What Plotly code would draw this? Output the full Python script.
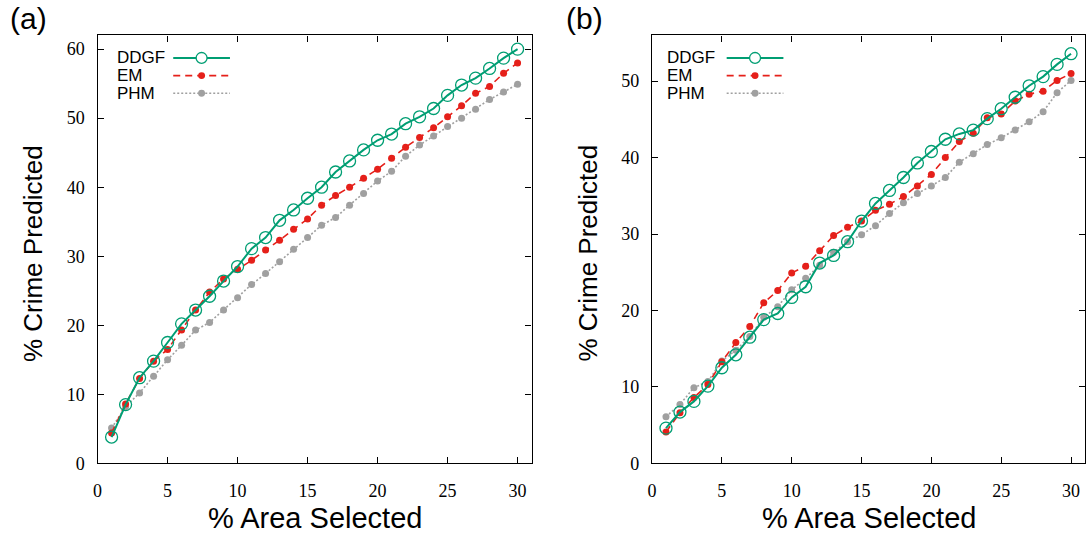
import plotly.graph_objects as go

# ---------------- data ----------------
x_area = list(range(1, 31))

a_ddgf = [3.8, 8.5, 12.4, 14.8, 17.5, 20.2, 22.2, 24.2, 26.4, 28.5, 31.1, 32.7, 35.2, 36.7, 38.4,
          40.0, 42.2, 43.8, 45.4, 46.8, 47.7, 49.2, 50.2, 51.4, 53.3, 54.8, 55.8, 57.2, 58.7, 60.0]
a_em = [4.4, 8.6, 12.3, 14.8, 16.5, 19.3, 22.2, 24.8, 26.7, 28.1, 29.4, 30.9, 32.3, 33.9, 35.4,
        37.4, 38.8, 40.0, 41.3, 42.6, 44.2, 45.8, 47.2, 48.6, 50.2, 51.8, 53.6, 54.6, 56.5, 58.0]
a_phm = [5.1, 8.2, 10.2, 12.6, 15.0, 17.1, 19.3, 20.4, 22.2, 24.0, 25.9, 27.5, 29.2, 31.0, 32.7,
         34.5, 35.6, 37.4, 39.1, 40.9, 42.3, 44.5, 46.1, 47.4, 48.8, 50.0, 51.3, 52.7, 53.8, 54.9]

b_ddgf = [4.6, 6.7, 8.1, 10.1, 12.5, 14.2, 16.5, 18.8, 19.6, 21.7, 23.1, 26.2, 27.2, 29.0, 31.7,
          34.0, 35.7, 37.4, 39.3, 40.8, 42.4, 43.1, 43.6, 45.1, 46.4, 47.9, 49.4, 50.6, 52.2, 53.6]
b_em = [4.1, 6.6, 8.6, 10.3, 13.3, 15.8, 17.9, 21.0, 22.6, 24.9, 25.8, 27.8, 29.8, 30.9, 31.7,
        33.1, 33.9, 34.9, 36.3, 37.8, 40.0, 42.1, 43.2, 45.2, 45.7, 47.4, 48.3, 48.7, 50.1, 51.0]
b_phm = [6.1, 7.7, 9.9, 10.7, 13.4, 14.8, 16.6, 19.1, 20.5, 22.7, 24.2, 25.9, 27.6, 29.0, 29.9,
         31.1, 32.7, 34.1, 35.3, 36.3, 37.4, 39.4, 40.5, 41.7, 42.6, 43.6, 44.7, 46.0, 48.5, 50.1]

series_names = ["DDGF", "EM", "PHM"]
x_ticks = [0, 5, 10, 15, 20, 25, 30]
y_ticks_a = [0, 10, 20, 30, 40, 50, 60]
y_ticks_b = [0, 10, 20, 30, 40, 50]
panel_labels = ["(a)", "(b)"]
x_title = "% Area Selected"
y_title = "% Crime Predicted"

# ---------------- style ----------------
W, H = 1089, 542
GREEN = "#009e73"
RED = "#e5201a"
GRAY = "#a0a0a0"
SANS = "'Liberation Sans', Arial, sans-serif"
SERIF = "'Liberation Serif', 'Times New Roman', serif"


def px(v):
    return v / W


def py(v):
    return 1 - v / H


styles = {
    "DDGF": dict(mode="lines+markers", line=dict(color=GREEN, width=2, dash="solid"),
                 marker=dict(symbol="circle-open", size=12, color=GREEN, line=dict(width=1.3, color=GREEN))),
    "EM": dict(mode="lines+markers", line=dict(color=RED, width=1.6, dash="7px,5px"),
               marker=dict(symbol="circle", size=7, color=RED)),
    "PHM": dict(mode="lines+markers", line=dict(color=GRAY, width=1.6, dash="2px,2px"),
                marker=dict(symbol="circle", size=7, color=GRAY)),
}

fig = go.Figure()

panels = [
    ("x", "y", [a_ddgf, a_em, a_phm]),
    ("x2", "y2", [b_ddgf, b_em, b_phm]),
]
for xa, ya, data in panels:
    # draw PHM first, then EM, then DDGF on top
    for name, vals in reversed(list(zip(series_names, data))):
        fig.add_trace(go.Scatter(x=x_area, y=vals, name=name, xaxis=xa, yaxis=ya,
                                 showlegend=False, hoverinfo="x+y+name", **styles[name]))

axis_common = dict(showline=True, linecolor="black", linewidth=1.4, mirror="ticks",
                   ticks="inside", ticklen=6, tickwidth=1, tickcolor="black",
                   showgrid=False, zeroline=False, ticklabelposition="outside",
                   tickfont=dict(family=SERIF, size=18, color="black"))

x_dom_a = [px(93), px(529)]
x_dom_b = [px(650), px(1085)]
y_dom = [py(472), py(36)]

fig.update_layout(
    autosize=True,
    margin=dict(l=0, r=0, t=0, b=0, pad=0),
    paper_bgcolor="white", plot_bgcolor="white",
    showlegend=False,
    xaxis=dict(domain=x_dom_a, range=[0, 31], tickvals=x_ticks, anchor="y",
               ticklabelstandoff=11, **axis_common),
    yaxis=dict(domain=y_dom, range=[0, 62], tickvals=y_ticks_a, anchor="x",
               ticklabelstandoff=8, **axis_common),
    xaxis2=dict(domain=x_dom_b, range=[0, 31], tickvals=x_ticks, anchor="y2",
                ticklabelstandoff=11, **axis_common),
    yaxis2=dict(domain=y_dom, range=[0, 56], tickvals=y_ticks_b, anchor="x2",
                ticklabelstandoff=8, **axis_common),
)

annotations = []
shapes = []

# axis titles and panel labels
for i, (dom, lab) in enumerate([(x_dom_a, panel_labels[0]), (x_dom_b, panel_labels[1])]):
    cx = (dom[0] + dom[1]) / 2
    annotations.append(dict(x=cx, y=py(528), xref="paper", yref="paper", text=x_title,
                            showarrow=False, font=dict(family=SANS, size=29, color="black"),
                            xanchor="center", yanchor="middle"))
    ytx = px(28) if i == 0 else px(586)
    annotations.append(dict(x=ytx, y=py(258), xref="paper", yref="paper", text=y_title,
                            textangle=-90, showarrow=False,
                            font=dict(family=SANS, size=26, color="black"),
                            xanchor="center", yanchor="middle"))
    lx = px(3) if i == 0 else px(562)
    annotations.append(dict(x=lx, y=py(19), xref="paper", yref="paper", text=lab,
                            showarrow=False, font=dict(family=SANS, size=30, color="black"),
                            xanchor="left", yanchor="middle"))

# manual legends (text left, sample right), gnuplot style
legend_pos = [(111, 169, 226), (663, 725, 782)]
row_y = [59, 77, 95]
for (tx, l0, l1) in legend_pos:
    for name, ry in zip(series_names, row_y):
        st = styles[name]
        annotations.append(dict(x=px(tx), y=py(ry), xref="paper", yref="paper", text=name,
                                showarrow=False, font=dict(family=SANS, size=17, color="black"),
                                xanchor="left", yanchor="middle"))
        shapes.append(dict(type="line", xref="paper", yref="paper",
                           x0=px(l0), x1=px(l1), y0=py(ry), y1=py(ry),
                           line=dict(color=st["line"]["color"], width=st["line"]["width"],
                                     dash=st["line"]["dash"])))
        mx = (l0 + l1) / 2
        if name == "DDGF":
            r = 5.5
            shapes.append(dict(type="circle", xref="paper", yref="paper",
                               x0=px(mx - r), x1=px(mx + r), y0=py(ry + r), y1=py(ry - r),
                               fillcolor="white", line=dict(color=GREEN, width=1.3)))
        else:
            r = 3.5
            shapes.append(dict(type="circle", xref="paper", yref="paper",
                               x0=px(mx - r), x1=px(mx + r), y0=py(ry + r), y1=py(ry - r),
                               fillcolor=st["marker"]["color"], line=dict(width=0)))

fig.update_layout(annotations=annotations, shapes=shapes)

fig.write_html("out.html",
               default_width="100vw", default_height="100vh",
               config=dict(displayModeBar=False, responsive=True),
               post_script="document.body.style.margin='0';document.body.style.padding='0';"
                           "document.body.style.overflow='hidden';"
                           "Plotly.Plots.resize(document.getElementById('{plot_id}'));")
